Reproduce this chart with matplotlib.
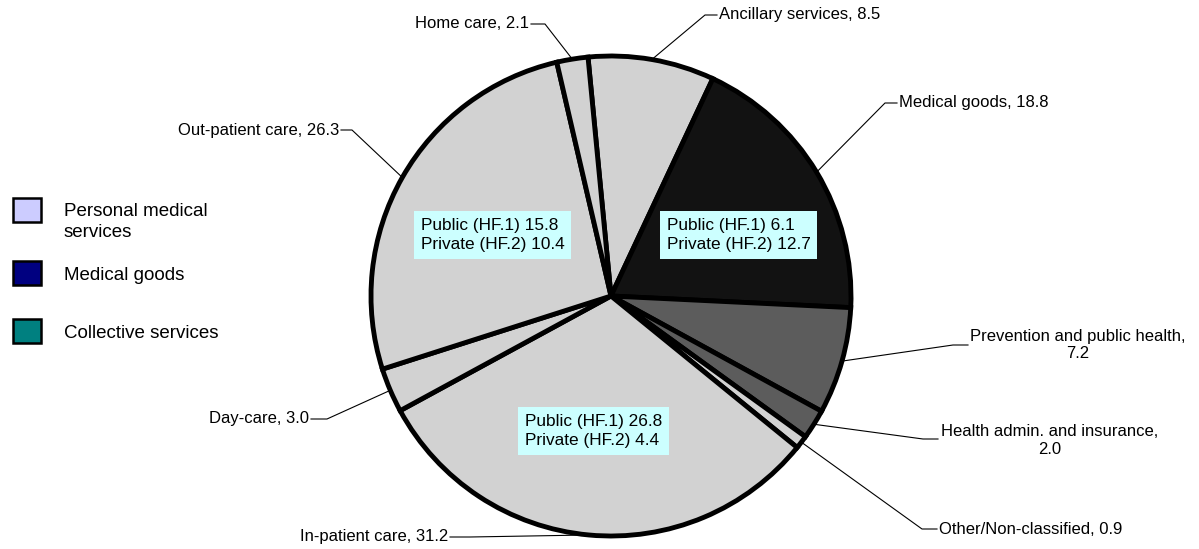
import matplotlib
matplotlib.use('Agg')
import matplotlib.pyplot as plt
import matplotlib.patches as mpatches
import numpy as np

plt.rcParams['font.family'] = ['Liberation Sans', 'DejaVu Sans']

# Data (share of current health expenditure, %)
categories = ["Ancillary services", "Medical goods", "Prevention and public health",
              "Health admin. and insurance", "Other/Non-classified", "In-patient care",
              "Day-care", "Out-patient care", "Home care"]
values = [8.5, 18.8, 7.2, 2.0, 0.9, 31.2, 3.0, 26.3, 2.1]
slice_colors = ["#d2d2d2", "#121212", "#5c5c5c", "#5c5c5c", "#d2d2d2",
                "#d2d2d2", "#d2d2d2", "#d2d2d2", "#d2d2d2"]

legend_labels = ["Personal medical\nservices", "Medical goods", "Collective services"]
legend_colors = ["#ccccff", "#000080", "#008080"]

split_boxes = ["Public (HF.1) 15.8\nPrivate (HF.2) 10.4",
               "Public (HF.1) 6.1\nPrivate (HF.2) 12.7",
               "Public (HF.1) 26.8\nPrivate (HF.2) 4.4"]

W, H = 1199, 549


def Y(y):
    # pixel row -> data y
    return H - y


fig = plt.figure(figsize=(W / 100, H / 100), dpi=100)
ax = fig.add_axes([0, 0, 1, 1])

cx, cy, r = 611, 296, 240
start = 95.5
ax.pie(values, colors=slice_colors, startangle=start, counterclock=False,
       center=(cx, Y(cy)), radius=r,
       wedgeprops=dict(edgecolor='black', linewidth=3.5))
ax.set_xlim(0, W)
ax.set_ylim(0, H)
ax.set_aspect('equal')
ax.axis('off')

# leader lines + labels: (elbow, line end, text pos, ha)
label_layout = [
    ((705, 15), (717, 15), (719, 15), 'left'),
    ((885, 103), (897, 103), (899, 103), 'left'),
    ((953, 345), (968, 345), (1078, 345), 'center'),
    ((923, 439), (938, 439), (1050, 440), 'center'),
    ((922, 529), (937, 529), (939, 529), 'left'),
    ((470, 537), (450, 537), (448, 537), 'right'),
    ((327, 419), (311, 419), (309, 419), 'right'),
    ((352, 130), (341, 130), (339, 130), 'right'),
    ((545, 24), (531, 24), (529, 24), 'right'),
]
label_text = ["Ancillary services, 8.5", "Medical goods, 18.8",
              "Prevention and public health,\n7.2", "Health admin. and insurance,\n2.0",
              "Other/Non-classified, 0.9", "In-patient care, 31.2", "Day-care, 3.0",
              "Out-patient care, 26.3", "Home care, 2.1"]

cum = np.cumsum([0] + values[:-1])
total = sum(values)
for i, v in enumerate(values):
    mid = np.deg2rad(start - (cum[i] + v / 2) / total * 360)
    px, py = cx + r * np.cos(mid), cy - r * np.sin(mid)
    (ex, ey), (lx, ly), (tx, ty), ha = label_layout[i]
    ax.plot([px, ex, lx], [Y(py), Y(ey), Y(ly)], color='black', lw=0.8, zorder=5)
    ax.text(tx, Y(ty), label_text[i], ha=ha, va='center', fontsize=12,
            multialignment='center', color='black', linespacing=1.25)

# public/private boxes
box_pos = [(421, 235), (667, 235), (525, 431)]
for (bx, by), txt in zip(box_pos, split_boxes):
    ax.text(bx, Y(by), txt, ha='left', va='center', fontsize=12.4, linespacing=1.4,
            bbox=dict(boxstyle='square,pad=0.38', fc='#ccffff', ec='none'), zorder=6)

# legend
leg_y = [210, 273, 331]
txt_y = [222, 276, 333]
for col, lab, ly, ty in zip(legend_colors, legend_labels, leg_y, txt_y):
    ax.add_patch(mpatches.Rectangle((13, Y(ly + 12)), 28, 24, fc=col, ec='black', lw=1.8))
    ax.text(64, Y(ty), lab, ha='left', va='center', fontsize=13.5, linespacing=1.25)

plt.savefig('out.png', dpi=100, facecolor='white')
plt.close()
